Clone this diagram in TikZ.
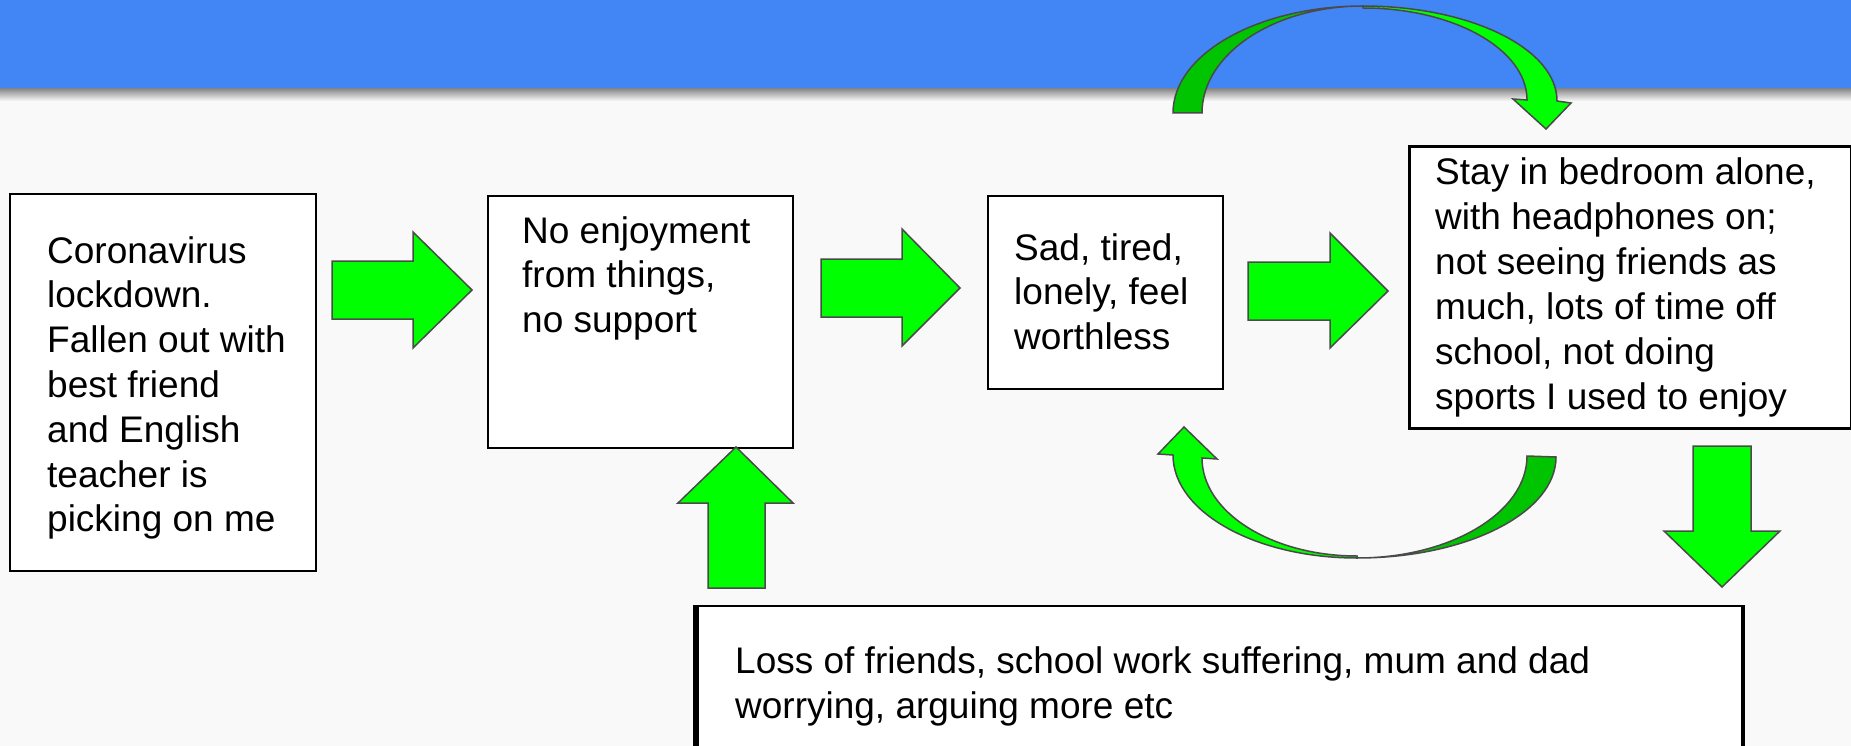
\documentclass[tikz,border=0pt]{standalone}
\usepackage{fontspec}
\setmainfont{Liberation Sans}
\definecolor{pagebg}{HTML}{F9F9F9}
\definecolor{barblue}{HTML}{4285F4}
\definecolor{arrowgreen}{HTML}{00FF00}
\definecolor{arrowdark}{HTML}{00C400}
\definecolor{edgegray}{HTML}{4A4A4A}
\begin{document}
\begin{tikzpicture}[x=1pt,y=-1pt,
  box/.style={draw=black, line width=2pt, fill=white, inner sep=0pt, anchor=north west},
  txt/.style={inner sep=0pt, anchor=base west, text=black},
  blockarrow/.style={fill=arrowgreen, draw=edgegray, line width=1.5pt, line join=miter},
  curvelight/.style={fill=arrowgreen, draw=edgegray, line width=1.5pt, line join=miter},
  curvedark/.style={fill=arrowdark, draw=edgegray, line width=1.5pt, line join=miter}
]
\newcommand{\boxtext}[1]{\parbox[t]{480pt}{\fontsize{37}{44.8}\selectfont\raggedright #1}}

% page and title bar
\useasboundingbox (0,0) rectangle (1851,746);
\fill[pagebg] (0,0) rectangle (1851,746);
\fill[barblue] (0,0) rectangle (1851,89);
\shade[top color=black!45, bottom color=pagebg] (0,89) rectangle (1851,101);

% boxes
\node[box, minimum width=306pt, minimum height=377pt] (b1) at (9,193) {};
\node[box, minimum width=305pt, minimum height=252pt] (b2) at (487,195) {};
\node[box, minimum width=235pt, minimum height=193pt] (b3) at (987,195) {};
\node[box, line width=3pt, minimum width=442pt, minimum height=282pt] (b4) at (1408,145) {};
\node[fill=white, inner sep=0pt, anchor=north west, minimum width=1047pt, minimum height=170pt] (b5) at (696,606) {};
\draw[line width=1.5pt] (b5.north west) -- (b5.north east);
\draw[line width=6pt] ([yshift=0.75pt]b5.north west) -- (b5.south west);
\draw[line width=4pt] ([yshift=0.75pt]b5.north east) -- (b5.south east);

% texts
\node[txt] (t1) at (47,263) {\boxtext{Coronavirus\\lockdown.\\Fallen out with\\best friend\\and English\\teacher is\\picking on me}};
\node[txt] (t2) at (522,243) {\boxtext{No enjoyment\\from things,\\no support}};
\node[txt] (t3) at (1014,260) {\boxtext{Sad, tired,\\lonely, feel\\worthless}};
\node[txt] (t4) at (1435,185) {\boxtext{Stay in bedroom alone,\\with headphones on;\\not seeing friends as\\much, lots of time off\\school, not doing\\sports I used to enjoy}};
\node[txt] (t5) at (735,673) {\parbox[t]{1000pt}{\fontsize{37}{45}\selectfont\raggedright Loss of friends, school work suffering, mum and dad\\worrying, arguing more etc}};

% straight block arrows
\draw[blockarrow] (332,261) -- (413,261) -- (413,232) -- (472,290) -- (413,348) -- (413,319) -- (332,319) -- cycle;
\draw[blockarrow] (821,259) -- (902,259) -- (902,229) -- (960,288) -- (902,346) -- (902,317) -- (821,317) -- cycle;
\draw[blockarrow] (1248,262) -- (1330,262) -- (1330,233) -- (1388,291) -- (1330,348) -- (1330,320) -- (1248,320) -- cycle;
\draw[blockarrow] (708,588) -- (708,503) -- (678,503) -- (736,447) -- (793,503) -- (765,503) -- (765,588) -- cycle;
\draw[blockarrow] (1693,446) -- (1751,446) -- (1751,531) -- (1780,531) -- (1722,587) -- (1664,531) -- (1693,531) -- cycle;

% curved arrow over the top: box 3 to box 4
\draw[curvedark] (1173,113) arc[start angle=180, end angle=270, x radius=190, y radius=107]
  arc[start angle=270, end angle=180, x radius=161, y radius=107] -- cycle;
\draw[curvelight] (1363,6) arc[start angle=270, end angle=360, x radius=194, y radius=95]
  -- (1571,103) -- (1546,129) -- (1513,99) -- (1527,100)
  arc[start angle=360, end angle=270, x radius=164, y radius=92] -- cycle;

% curved arrow underneath: box 4 back to box 3
\draw[curvedark] (1556,457) arc[start angle=0, end angle=90, x radius=199, y radius=101]
  arc[start angle=90, end angle=0, x radius=170, y radius=102] -- cycle;
\draw[curvelight] (1357,558) arc[start angle=90, end angle=180, x radius=184, y radius=103]
  -- (1158,454) -- (1184,427) -- (1217,459) -- (1202,458)
  arc[start angle=180, end angle=90, x radius=155, y radius=98] -- cycle;
\end{tikzpicture}
\end{document}
